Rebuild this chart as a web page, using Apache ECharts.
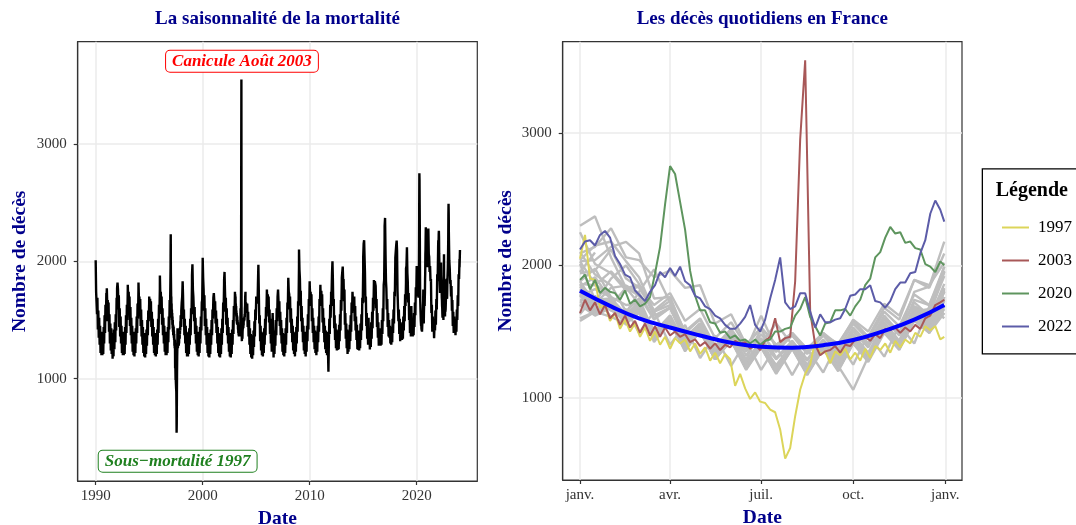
<!DOCTYPE html>
<html><head><meta charset="utf-8">
<script src="https://cdn.jsdelivr.net/npm/echarts@6/dist/echarts.min.js"></script>
<style>html,body{margin:0;padding:0;background:#fff}#c{width:1076px;height:525px}</style>
</head><body><div id="c"></div>
<script>
const SERIF = '"Liberation Serif", "Times New Roman", serif';

// Day-of-year positions (1st and 16th of each month + Dec 31) for ordinary years
const gridDays = [1,16,32,47,60,75,91,106,121,136,152,167,182,197,213,228,244,259,274,289,305,320,335,350,365];
// Finer day positions (every 5 days) for highlighted years
const hiDays = [1,6,11,16,21,26,31,36,41,46,51,56,61,66,71,76,81,86,91,96,101,106,111,116,121,126,131,136,141,146,151,156,161,166,171,176,181,186,191,196,201,206,211,216,221,226,231,236,241,246,251,256,261,266,271,276,281,286,291,296,301,306,311,316,321,326,331,336,341,346,351,356,361,365];

// Daily deaths (estimated) for ordinary years, on gridDays
const y1990 = [2010,1740,1750,1550,1690,1420,1580,1350,1520,1290,1450,1220,1400,1200,1400,1200,1400,1210,1440,1300,1540,1390,1630,1490,1730];
const y1991 = [1630,1770,1610,1670,1490,1650,1400,1550,1300,1470,1240,1430,1210,1390,1170,1370,1190,1420,1250,1480,1310,1550,1410,1690,1600];
const y1992 = [1770,1820,1760,1590,1710,1440,1600,1360,1530,1300,1450,1220,1400,1200,1400,1200,1400,1210,1440,1290,1540,1390,1630,1500,1750];
const y1993 = [1800,1660,1740,1580,1700,1450,1610,1370,1520,1300,1450,1230,1400,1200,1390,1190,1400,1220,1430,1300,1530,1390,1640,1510,1760];
const y1994 = [1820,1680,1700,1560,1680,1450,1590,1360,1500,1290,1440,1220,1380,1190,1390,1180,1390,1210,1420,1280,1500,1370,1580,1490,1640];
const y1995 = [1700,1620,1680,1560,1660,1440,1570,1360,1510,1290,1440,1220,1390,1200,1380,1190,1390,1210,1420,1290,1510,1390,1630,1550,1760];
const y1996 = [1880,1700,1740,1600,1700,1460,1600,1370,1520,1300,1450,1230,1400,1200,1390,1200,1400,1220,1440,1310,1530,1420,1670,1630,1950];
const y1998 = [1580,1650,1700,1830,1710,1510,1590,1370,1510,1300,1450,1220,1390,1190,1390,1190,1400,1210,1430,1290,1510,1370,1600,1550,1800];
const y1999 = [1880,1975,1760,1700,1710,1490,1610,1380,1520,1300,1450,1230,1400,1200,1400,1190,1400,1220,1440,1300,1530,1410,1650,1670,1990];
const y2000 = [2030,1860,1760,1580,1710,1450,1600,1370,1510,1290,1440,1220,1390,1190,1390,1180,1380,1210,1420,1290,1500,1370,1590,1510,1690];
const y2001 = [1690,1730,1660,1620,1660,1470,1580,1390,1510,1300,1440,1220,1390,1190,1370,1180,1380,1210,1430,1290,1510,1390,1650,1570,1800];
const y2002 = [1840,1910,1740,1600,1690,1460,1600,1370,1520,1300,1440,1230,1390,1190,1380,1180,1390,1210,1420,1290,1500,1380,1620,1550,1640];
const y2004 = [1600,1650,1610,1560,1640,1440,1570,1360,1500,1290,1430,1210,1380,1180,1370,1170,1370,1200,1410,1270,1490,1360,1590,1500,1670];
const y2005 = [1700,1640,1680,1640,1800,1970,1720,1470,1540,1320,1450,1240,1400,1200,1390,1190,1390,1220,1430,1290,1510,1370,1610,1530,1760];
const y2006 = [1770,1650,1720,1600,1700,1480,1590,1380,1510,1300,1430,1230,1410,1560,1400,1180,1370,1210,1410,1280,1500,1370,1600,1490,1700];
const y2007 = [1700,1760,1660,1600,1660,1450,1570,1370,1500,1300,1430,1230,1390,1200,1380,1190,1380,1220,1430,1290,1520,1390,1650,1590,1860];
const y2008 = [1860,1740,1720,1610,1700,1480,1600,1390,1510,1310,1450,1240,1400,1210,1390,1190,1390,1230,1440,1300,1530,1400,1660,1620,1950];
const y2009 = [2100,1930,1850,1650,1750,1490,1620,1400,1520,1310,1450,1240,1400,1210,1390,1190,1400,1230,1450,1320,1550,1420,1680,1620,1830];
const y2010 = [1800,1710,1740,1620,1720,1490,1600,1390,1520,1310,1450,1250,1410,1220,1400,1200,1400,1230,1450,1310,1530,1400,1680,1620,1800];
const y2011 = [1780,1670,1750,1630,1720,1480,1600,1390,1520,1310,1450,1250,1410,1220,1400,1200,1390,1240,1060,1310,1510,1380,1630,1520,1690];
const y2012 = [1740,1720,1900,2000,1860,1620,1680,1430,1540,1330,1470,1260,1420,1240,1410,1245,1400,1250,1460,1320,1550,1410,1670,1580,1820];
const y2013 = [1860,1850,1955,1830,1850,1660,1760,1460,1560,1340,1470,1260,1420,1210,1410,1230,1390,1250,1460,1320,1540,1400,1650,1560,1740];
const y2014 = [1728,1650,1690,1600,1700,1490,1620,1410,1530,1330,1460,1250,1410,1245,1400,1240,1410,1260,1470,1330,1550,1410,1690,1640,1920];
const y2015 = [2040,2150,2180,2030,1910,1650,1700,1450,1560,1340,1480,1290,1520,1300,1400,1250,1410,1270,1480,1340,1570,1430,1690,1580,1810];
const y2016 = [1840,1710,1830,1847,1790,1600,1680,1440,1560,1350,1480,1280,1430,1290,1420,1280,1430,1290,1500,1380,1600,1490,1800,1840,2180];
const y2017 = [2300,2370,2060,1830,1770,1590,1680,1440,1560,1360,1500,1350,1450,1300,1430,1290,1440,1310,1510,1390,1590,1470,1740,1700,1990];
const y2018 = [2030,2040,2140,2177,2090,1750,1760,1490,1590,1380,1510,1320,1480,1345,1470,1330,1470,1340,1530,1410,1620,1490,1720,1620,1820];
const y2019 = [1940,1960,2120,1900,1830,1650,1730,1500,1600,1390,1520,1360,1620,1370,1490,1360,1490,1370,1560,1440,1650,1540,1780,1700,1960];
const y2021 = [2090,2140,2280,2060,2040,1910,1960,1830,1850,1560,1630,1400,1530,1400,1470,1345,1470,1410,1580,1460,1680,1590,1890,1830,2090];
const y2023 = [2250,2010,1940,1810,1840,1700,1790,1580,1670,1450,1570,1390,1530,1400,1490,1370,1490,1400,1590,1500,1710,1620,1890,1850,2020];
const y2024 = [1950,2097];

// Highlighted years, on hiDays
const d1997 = [2050,2230,1900,1890,1680,1700,1580,1640,1520,1590,
  1500,1560,1460,1530,1430,1500,1400,1460,1370,1450,
  1410,1440,1350,1410,1330,1380,1280,1340,1260,1330,
  1290,1090,1180,1070,990,1040,970,960,910,890,
  760,540,620,860,1060,1180,1250,1430,1330,1350,
  1260,1350,1320,1370,1290,1340,1280,1370,1300,1390,
  1360,1410,1340,1430,1380,1440,1410,1490,1460,1540,
  1510,1540,1440,1460];
const d2003 = [1640,1740,1660,1720,1630,1700,1600,1640,1550,1620,
  1530,1580,1490,1560,1470,1540,1460,1530,1470,1500,
  1460,1480,1420,1440,1390,1420,1370,1410,1360,1400,
  1380,1430,1410,1420,1370,1400,1360,1430,1460,1600,
  1420,1450,1460,1880,2950,3550,1650,1400,1320,1350,
  1360,1390,1340,1400,1390,1440,1440,1460,1430,1480,
  1450,1520,1510,1530,1490,1530,1500,1550,1520,1600,
  1620,1700,1720,1740];
const d2020 = [1890,1930,1820,1890,1790,1830,1800,1790,1740,1810,
  1710,1740,1690,1710,1760,1940,2140,2460,2750,2690,
  2480,2270,1960,1770,1660,1660,1570,1560,1490,1500,
  1450,1470,1430,1440,1410,1440,1400,1430,1440,1500,
  1500,1520,1530,1620,1670,1760,1610,1540,1470,1560,
  1570,1660,1660,1670,1620,1690,1740,1850,1900,2060,
  2100,2210,2290,2240,2250,2170,2180,2130,2120,2010,
  1990,1950,2030,2000];
const d2022 = [2120,2180,2190,2150,2230,2260,2210,2070,2010,1930,
  1910,1810,1770,1730,1800,1850,1950,1910,1980,1920,
  1990,1880,1850,1770,1750,1690,1670,1620,1600,1550,
  1520,1520,1560,1610,1700,1550,1500,1590,1750,1890,
  2060,1720,1670,1690,1790,1790,1650,1530,1630,1570,
  1570,1590,1600,1670,1770,1780,1820,1820,1850,1730,
  1720,1680,1730,1820,1870,1870,1940,1950,2090,2190,
  2390,2490,2420,2330];

// Smoothed seasonal trend (blue curve)
const smoothDays = [1,32,60,91,121,152,182,213,244,274,305,335,365];
const smoothValues = [1808,1690,1600,1530,1470,1415,1385,1378,1397,1436,1505,1590,1701];

const highlightNames = ['1997','2003','2020','2022'];
const highlightColors = ['#DCD55A','#A85858','#5E955E','#5C5CA8'];

const leftTicks = [1990,2000,2010,2020];
const yTicks = [1000,2000,3000];
const monthTicks = [1,91,182,274,366];
const monthLabels = ['janv.','avr.','juil.','oct.','janv.'];

// assemble tables
const ordinary = [
  [1990,y1990],[1991,y1991],[1992,y1992],[1993,y1993],[1994,y1994],[1995,y1995],[1996,y1996],
  [1998,y1998],[1999,y1999],[2000,y2000],[2001,y2001],[2002,y2002],[2004,y2004],[2005,y2005],
  [2006,y2006],[2007,y2007],[2008,y2008],[2009,y2009],[2010,y2010],[2011,y2011],[2012,y2012],
  [2013,y2013],[2014,y2014],[2015,y2015],[2016,y2016],[2017,y2017],[2018,y2018],[2019,y2019],
  [2021,y2021],[2023,y2023],[2024,y2024]
];
const highlighted = [[1997,d1997],[2003,d2003],[2020,d2020],[2022,d2022]];

const allYears = [];
ordinary.forEach(([yr, vals]) => allYears.push({yr, days: gridDays.slice(0, vals.length), vals}));
highlighted.forEach(([yr, vals]) => allYears.push({yr, days: hiDays, vals}));
allYears.sort((a, b) => a.yr - b.yr);

const leftData = [];
allYears.forEach(o => o.days.forEach((d, i) => leftData.push([o.yr + (d - 1) / 365, o.vals[i]])));

const series = [];
series.push({
  name: 'Décès', type: 'line', xAxisIndex: 0, yAxisIndex: 0, data: leftData,
  symbol: 'none', lineStyle: {color: '#000', width: 2.4}, itemStyle: {color: '#000'}, z: 3,
  markPoint: {
    symbol: 'rect', symbolSize: 1, itemStyle: {color: 'rgba(0,0,0,0)'},
    data: [
      {coord: [2003.67, 3706], value: 'Canicule Août 2003',
        label: {show: true, position: 'inside', formatter: 'Canicule Août 2003', color: '#FF0000',
          fontFamily: SERIF, fontStyle: 'italic', fontWeight: 'bold', fontSize: 17,
          backgroundColor: '#fff', borderColor: '#FF0000', borderWidth: 1, borderRadius: 4, padding: [2, 6, 2, 6]}},
      {coord: [1997.66, 297], value: 'Sous−mortalité 1997',
        label: {show: true, position: 'inside', formatter: 'Sous−mortalité 1997', color: '#1F801F',
          fontFamily: SERIF, fontStyle: 'italic', fontWeight: 'bold', fontSize: 17,
          backgroundColor: '#fff', borderColor: '#1F801F', borderWidth: 1, borderRadius: 4, padding: [2, 6, 2, 6]}}
    ]
  }
});
allYears.filter(o => highlightNames.indexOf(String(o.yr)) < 0).forEach(o => {
  series.push({
    name: 'g' + o.yr, type: 'line', xAxisIndex: 1, yAxisIndex: 1,
    data: o.days.map((d, i) => [d, o.vals[i]]), symbol: 'none',
    lineStyle: {color: '#BEBEBE', width: 2.4}, itemStyle: {color: '#BEBEBE'}, z: 2
  });
});
highlighted.forEach(([yr, vals], k) => {
  series.push({
    name: highlightNames[k], type: 'line', xAxisIndex: 1, yAxisIndex: 1,
    data: hiDays.map((d, i) => [d, vals[i]]), symbol: 'none',
    lineStyle: {color: highlightColors[k], width: 2}, itemStyle: {color: highlightColors[k]}, z: 3
  });
});
series.push({
  name: 'tendance', type: 'line', xAxisIndex: 1, yAxisIndex: 1,
  data: smoothDays.map((d, i) => [d, smoothValues[i]]), smooth: true, symbol: 'none',
  lineStyle: {color: '#0000FF', width: 4}, itemStyle: {color: '#0000FF'}, z: 4
});

const nameStyle = {color: '#00008B', fontFamily: SERIF, fontSize: 19.5, fontWeight: 'bold'};
const labStyle = {color: '#333', fontFamily: SERIF, fontSize: 15};
const axLine = {show: true, onZero: false, lineStyle: {color: '#333', width: 1.2}};
const split = {show: true, lineStyle: {color: '#EBEBEB', width: 1.5}};

const option = {
  animation: false,
  backgroundColor: '#fff',
  title: [
    {text: 'La saisonnalité de la mortalité', left: 277.5, top: 10, textAlign: 'center', padding: 0,
      textStyle: {color: '#00008B', fontFamily: SERIF, fontSize: 19, fontWeight: 'bold'}},
    {text: 'Les décès quotidiens en France', left: 762.3, top: 10, textAlign: 'center', padding: 0,
      textStyle: {color: '#00008B', fontFamily: SERIF, fontSize: 19, fontWeight: 'bold'}}
  ],
  grid: [
    {left: 77.7, top: 41.7, width: 399.6, height: 439.3, show: true, borderColor: '#333', borderWidth: 1.2, backgroundColor: '#fff', outerBoundsMode: 'none'},
    {left: 562.7, top: 41.7, width: 399.3, height: 438.3, show: true, borderColor: '#333', borderWidth: 1.2, backgroundColor: '#fff', outerBoundsMode: 'none'}
  ],
  xAxis: [
    {type: 'value', gridIndex: 0, min: 1988.32, max: 2025.66, name: 'Date', nameLocation: 'middle', nameGap: 26,
      nameTextStyle: nameStyle, axisLine: axLine,
      axisTick: {show: true, length: 4, customValues: leftTicks, lineStyle: {color: '#333', width: 1.2}},
      axisLabel: Object.assign({customValues: leftTicks, margin: 8, formatter: v => String(v)}, labStyle),
      splitLine: split},
    {type: 'value', gridIndex: 1, min: -16.29, max: 382.7, name: 'Date', nameLocation: 'middle', nameGap: 26,
      nameTextStyle: nameStyle, axisLine: axLine,
      axisTick: {show: true, length: 4, customValues: monthTicks, lineStyle: {color: '#333', width: 1.2}},
      axisLabel: Object.assign({customValues: monthTicks, margin: 8,
        formatter: v => monthLabels[monthTicks.indexOf(v)]}, labStyle),
      splitLine: split}
  ],
  yAxis: [
    {type: 'value', gridIndex: 0, min: 128, max: 3872, name: 'Nombre de décès', nameLocation: 'middle', nameGap: 48,
      nameTextStyle: nameStyle, axisLine: axLine,
      axisTick: {show: true, length: 4, customValues: yTicks, lineStyle: {color: '#333', width: 1.2}},
      axisLabel: Object.assign({customValues: yTicks, margin: 11, formatter: v => String(v)}, labStyle),
      splitLine: split},
    {type: 'value', gridIndex: 1, min: 378, max: 3690, name: 'Nombre de décès', nameLocation: 'middle', nameGap: 47,
      nameTextStyle: nameStyle, axisLine: axLine,
      axisTick: {show: true, length: 4, customValues: yTicks, lineStyle: {color: '#333', width: 1.2}},
      axisLabel: Object.assign({customValues: yTicks, margin: 11, formatter: v => String(v)}, labStyle),
      splitLine: split}
  ],
  legend: {
    data: highlightNames, orient: 'vertical', left: 997, top: 214, padding: 5,
    itemWidth: 27, itemHeight: 2, itemGap: 16, icon: 'rect', selectedMode: false,
    textStyle: {fontFamily: SERIF, fontSize: 17, color: '#000', padding: [0, 0, 0, 4]}
  },
  graphic: [
    {type: 'rect', left: 981.7, top: 168.3, z: -1, silent: true,
      shape: {width: 130, height: 185}, style: {fill: '#fff', stroke: '#000', lineWidth: 1.3}},
    {type: 'text', left: 995.7, top: 181, silent: true,
      style: {text: 'Légende', fill: '#000', font: 'bold 20px ' + SERIF}}
  ],
  series: series
};

const chart = echarts.init(document.getElementById('c'), null, {renderer: 'canvas'});
chart.setOption(option);
</script>
</body></html>
